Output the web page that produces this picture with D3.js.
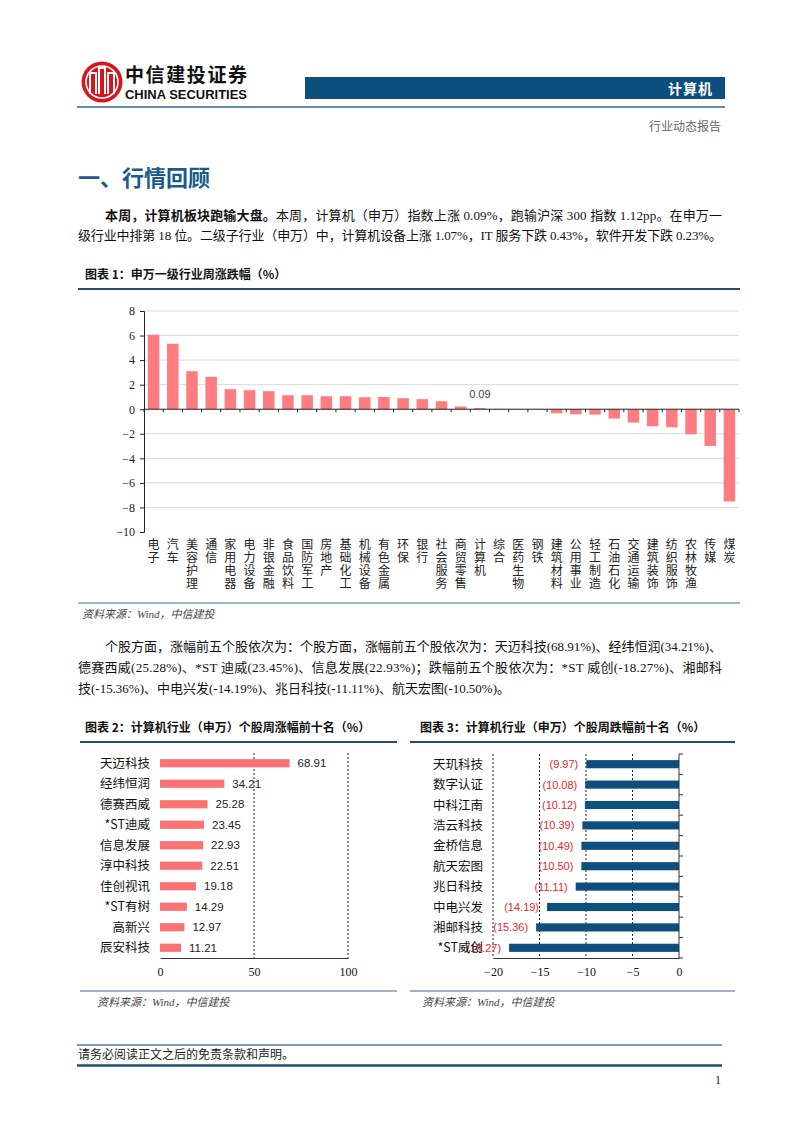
<!DOCTYPE html>
<html>
<head>
<meta charset="utf-8">
<script src="https://cdn.jsdelivr.net/npm/d3@7/dist/d3.min.js"></script>
<style>
   body { margin: 0; background: #fff; }
   svg text { font-family: "Liberation Serif", "Noto Sans CJK SC", serif; }
   .sans { font-family: "Liberation Sans", "Noto Sans CJK SC", sans-serif !important; }
   .cjk { font-family: "Noto Sans CJK SC", sans-serif !important; }
   .vert { writing-mode: vertical-rl; text-orientation: upright; }
</style>
</head>
<body>
<svg id="page" width="802" height="1133"></svg>
<script>

// CHART 1: SHENWAN LEVEL-1 INDUSTRY WEEKLY CHANGE (%)
var industries = ['电子', '汽车', '美容护理', '通信', '家用电器', '电力设备', '非银金融', '食品饮料',
   '国防军工', '房地产', '基础化工', '机械设备', '有色金属', '环保', '银行', '社会服务', '商贸零售',
   '计算机', '综合', '医药生物', '钢铁', '建筑材料', '公用事业', '轻工制造', '石油石化', '交通运输',
   '建筑装饰', '纺织服饰', '农林牧渔', '传媒', '煤炭'];
var industryChange = [6.07, 5.33, 3.10, 2.64, 1.63, 1.55, 1.47, 1.14, 1.14, 1.06, 1.06, 0.98, 1.00,
   0.90, 0.82, 0.65, 0.22, 0.09, 0.03, 0.01, 0.01, -0.33, -0.41, -0.44, -0.76, -1.09, -1.39, -1.47,
   -2.04, -2.99, -7.51];
var labelledIndustries = ['计算机'];
var industryTicks = [-10, -8, -6, -4, -2, 0, 2, 4, 6, 8];

// CHART 2: TOP 10 GAINERS (%)
var gainNames = ['天迈科技', '经纬恒润', '德赛西威', '*ST迪威', '信息发展', '淳中科技', '佳创视讯', '*ST有树', '高新兴', '辰安科技'];
var gainValues = [68.91, 34.21, 25.28, 23.45, 22.93, 22.51, 19.18, 14.29, 12.97, 11.21];
var gainTicks = [0, 50, 100];

// CHART 3: TOP 10 LOSERS (%)
var lossNames = ['天玑科技', '数字认证', '中科江南', '浩云科技', '金桥信息', '航天宏图', '兆日科技', '中电兴发', '湘邮科技', '*ST威创'];
var lossValues = [-9.97, -10.08, -10.12, -10.39, -10.49, -10.50, -11.11, -14.19, -15.36, -18.27];
var lossTicks = [-20, -15, -10, -5, 0];

var svg = d3.select('#page');

// HEADER
var logo = svg.append('g');
logo.append('circle').attr('cx', 102).attr('cy', 82).attr('r', 20.5).attr('fill', '#d8151b');
logo.append('circle').attr('cx', 102).attr('cy', 82).attr('r', 16).attr('fill', 'none')
   .attr('stroke', '#fff').attr('stroke-width', 1.6);
logo.append('path')
   .attr('d', 'M90,94 V73 H96 V94 M99,94 V68 H105 V94 M108,94 V73 H114 V94')
   .attr('fill', 'none').attr('stroke', '#fff').attr('stroke-width', 2);

svg.append('text').attr('class', 'cjk').attr('x', 125).attr('y', 82)
   .attr('font-size', 19).attr('font-weight', 'bold').attr('fill', '#111')
   .attr('textLength', 122).text('中信建投证券');
svg.append('text').attr('class', 'sans').attr('x', 125).attr('y', 99)
   .attr('font-size', 12).attr('font-weight', 'bold').attr('fill', '#111')
   .attr('textLength', 122).attr('lengthAdjust', 'spacingAndGlyphs').text('CHINA SECURITIES');

svg.append('rect').attr('x', 305).attr('y', 77).attr('width', 420).attr('height', 22).attr('fill', '#0c4e7e');
svg.append('text').attr('class', 'cjk').attr('x', 713).attr('y', 93.5).attr('text-anchor', 'end')
   .attr('font-size', 14).attr('font-weight', 'bold').attr('fill', '#fff').attr('letter-spacing', 1).text('计算机');
svg.append('line').attr('x1', 77).attr('x2', 725).attr('y1', 107).attr('y2', 107)
   .attr('stroke', '#2f638c').attr('stroke-width', 1.5);
svg.append('text').attr('x', 721).attr('y', 131).attr('text-anchor', 'end')
   .attr('font-size', 12).attr('fill', '#666').text('行业动态报告');

// SECTION HEADING
svg.append('text').attr('class', 'cjk').attr('x', 78).attr('y', 186)
   .attr('font-size', 22).attr('font-weight', 'bold').attr('fill', '#1a5b8c').text('一、行情回顾');

// PARAGRAPH 1
var p1 = svg.append('text').attr('x', 105).attr('y', 219.5).attr('font-size', 13).attr('fill', '#111')
   .attr('textLength', 617).attr('lengthAdjust', 'spacing');
p1.append('tspan').attr('font-weight', 'bold').text('本周，计算机板块跑输大盘。');
p1.append('tspan').text('本周，计算机（申万）指数上涨 0.09%，跑输沪深 300 指数 1.12pp。在申万一');
svg.append('text').attr('x', 78).attr('y', 239.5).attr('font-size', 13).attr('fill', '#111')
   .attr('textLength', 644).attr('lengthAdjust', 'spacing')
   .text('级行业中排第 18 位。二级子行业（申万）中，计算机设备上涨 1.07%，IT 服务下跌 0.43%，软件开发下跌 0.23%。');

// CHART TITLE HELPER
function title(x, y, x1, x2, label) {
   svg.append('text').attr('class', 'cjk').attr('x', x).attr('y', y)
      .attr('font-size', 12).attr('font-weight', 'bold').attr('fill', '#111').text(label);
   svg.append('line').attr('x1', x1).attr('x2', x2).attr('y1', y + 10).attr('y2', y + 10)
      .attr('stroke', '#1f4e79').attr('stroke-width', 2);
}

// SOURCE HELPER
function source(x, y, x1, x2) {
   svg.append('line').attr('x1', x1).attr('x2', x2).attr('y1', y).attr('y2', y)
      .attr('stroke', '#7f9cb4').attr('stroke-width', 1.5);
   svg.append('text').attr('x', x).attr('y', y + 15).attr('font-size', 11)
      .attr('font-style', 'italic').attr('fill', '#444').text('资料来源：Wind，中信建投');
}

// ===================== CHART 1 =====================
title(85, 279, 78, 740, '图表 1：申万一级行业周涨跌幅（%）');

var x1 = d3.scaleBand().domain(industries).range([144, 739]).paddingInner(0.4).paddingOuter(0.2);
var y1 = d3.scaleLinear().domain([-10, 8]).range([532, 311]);

// GRIDLINES
svg.append('g').selectAll('line')
   .data(industryTicks.filter(d => d !== -10 && d !== 0))
   .enter().append('line')
      .attr('x1', 144).attr('x2', 739)
      .attr('y1', d => y1(d)).attr('y2', d => y1(d))
      .attr('stroke', '#d9d9d9').attr('stroke-width', 1);

// BARS
svg.append('g').selectAll('rect')
   .data(industries)
   .enter().append('rect')
      .attr('x', d => x1(d))
      .attr('width', x1.bandwidth())
      .attr('y', (d, i) => y1(Math.max(0, industryChange[i])))
      .attr('height', (d, i) => Math.abs(y1(industryChange[i]) - y1(0)))
      .attr('fill', '#ff7c80');

// Y AXIS
var yAxis1 = svg.append('g').attr('transform', 'translate(144,0)')
   .call(d3.axisLeft(y1).tickValues(industryTicks).tickSize(4).tickPadding(5));
yAxis1.select('.domain').attr('stroke', '#222');
yAxis1.selectAll('.tick line').attr('stroke', '#222');
yAxis1.selectAll('.tick text').attr('font-size', 12).attr('fill', '#222')
   .attr('font-family', '"Liberation Serif", serif');

// ZERO AXIS WITH BOUNDARY TICKS
svg.append('line').attr('x1', 144).attr('x2', 739).attr('y1', y1(0)).attr('y2', y1(0))
   .attr('stroke', '#222').attr('stroke-width', 1);
svg.append('g').selectAll('line')
   .data(d3.range(industries.length + 1))
   .enter().append('line')
      .attr('x1', i => x1.range()[0] + i * x1.step())
      .attr('x2', i => x1.range()[0] + i * x1.step())
      .attr('y1', y1(0)).attr('y2', y1(0) + 3)
      .attr('stroke', '#222');

// DATA LABEL
svg.append('g').selectAll('text')
   .data(labelledIndustries)
   .enter().append('text')
      .attr('class', 'sans')
      .attr('x', d => x1(d) + x1.bandwidth() / 2)
      .attr('y', d => y1(industryChange[industries.indexOf(d)]) - 10)
      .attr('text-anchor', 'middle').attr('font-size', 11).attr('fill', '#404040')
      .text(d => industryChange[industries.indexOf(d)].toFixed(2));

// VERTICAL CATEGORY LABELS
svg.append('g').selectAll('text')
   .data(industries)
   .enter().append('text')
      .attr('class', 'cjk vert')
      .attr('x', d => x1(d) + x1.bandwidth() / 2)
      .attr('y', 538)
      .attr('font-size', 12).attr('letter-spacing', 1).attr('fill', '#222')
      .text(d => d);

source(82, 603, 78, 740);

// PARAGRAPH 2
svg.append('text').attr('x', 105).attr('y', 650.5).attr('font-size', 13).attr('fill', '#111')
   .attr('textLength', 617).attr('lengthAdjust', 'spacing')
   .text('个股方面，涨幅前五个股依次为：个股方面，涨幅前五个股依次为：天迈科技(68.91%)、经纬恒润(34.21%)、');
svg.append('text').attr('x', 78).attr('y', 671.5).attr('font-size', 13).attr('fill', '#111')
   .attr('textLength', 644).attr('lengthAdjust', 'spacing')
   .text('德赛西威(25.28%)、*ST 迪威(23.45%)、信息发展(22.93%)；跌幅前五个股依次为：*ST 威创(-18.27%)、湘邮科');
svg.append('text').attr('x', 78).attr('y', 693).attr('font-size', 13).attr('fill', '#111')
   .attr('textLength', 432).attr('lengthAdjust', 'spacing')
   .text('技(-15.36%)、中电兴发(-14.19%)、兆日科技(-11.11%)、航天宏图(-10.50%)。');

// ===================== CHART 2 =====================
title(85, 732, 80, 397, '图表 2：计算机行业（申万）个股周涨幅前十名（%）');

var x2 = d3.scaleLinear().domain([0, 100]).range([160, 348]);
var y2 = d3.scaleBand().domain(gainNames).range([753, 958]).paddingInner(0.6).paddingOuter(0.3);

svg.append('g').selectAll('line')
   .data(gainTicks.filter(d => d !== 0))
   .enter().append('line')
      .attr('x1', d => x2(d)).attr('x2', d => x2(d))
      .attr('y1', 753).attr('y2', 958)
      .attr('stroke', '#222').attr('stroke-dasharray', '2,2');

svg.append('g').selectAll('rect')
   .data(gainNames)
   .enter().append('rect')
      .attr('x', x2(0))
      .attr('y', d => y2(d))
      .attr('width', (d, i) => x2(gainValues[i]) - x2(0))
      .attr('height', y2.bandwidth())
      .attr('fill', '#fa7274');

svg.append('g').selectAll('text')
   .data(gainNames)
   .enter().append('text')
      .attr('class', 'sans')
      .attr('x', (d, i) => x2(gainValues[i]) + 8)
      .attr('y', d => y2(d) + y2.bandwidth() / 2 + 4)
      .attr('font-size', 11.5).attr('fill', '#222')
      .text((d, i) => gainValues[i].toFixed(2));

svg.append('g').selectAll('text')
   .data(gainNames)
   .enter().append('text')
      .attr('class', 'cjk')
      .attr('x', 150)
      .attr('y', d => y2(d) + y2.bandwidth() / 2 + 4.5)
      .attr('text-anchor', 'end').attr('font-size', 12.5).attr('fill', '#111')
      .text(d => d);

var xAxis2 = svg.append('g').attr('transform', 'translate(0,958)')
   .call(d3.axisBottom(x2).tickValues(gainTicks).tickSize(0).tickPadding(9).tickFormat(d3.format('d')));
xAxis2.select('.domain').attr('stroke', '#333');
xAxis2.selectAll('.tick text').attr('font-size', 12).attr('fill', '#111')
   .attr('font-family', '"Liberation Sans", sans-serif');

source(97, 991, 80, 397);

// ===================== CHART 3 =====================
title(420, 732, 410, 735, '图表 3：计算机行业（申万）个股周跌幅前十名（%）');

var x3 = d3.scaleLinear().domain([-20, 0]).range([493, 679]);
var y3 = d3.scaleBand().domain(lossNames).range([754, 958]).paddingInner(0.6).paddingOuter(0.3);

svg.append('g').selectAll('line')
   .data(lossTicks.filter(d => d !== 0))
   .enter().append('line')
      .attr('x1', d => x3(d)).attr('x2', d => x3(d))
      .attr('y1', 754).attr('y2', 958)
      .attr('stroke', '#222').attr('stroke-dasharray', '2,2');

svg.append('g').selectAll('rect')
   .data(lossNames)
   .enter().append('rect')
      .attr('x', (d, i) => x3(lossValues[i]))
      .attr('y', d => y3(d))
      .attr('width', (d, i) => x3(0) - x3(lossValues[i]))
      .attr('height', y3.bandwidth())
      .attr('fill', '#0f4f7e');

svg.append('g').selectAll('text')
   .data(lossNames)
   .enter().append('text')
      .attr('class', 'sans')
      .attr('x', (d, i) => x3(lossValues[i]) - 8)
      .attr('y', d => y3(d) + y3.bandwidth() / 2 + 4)
      .attr('text-anchor', 'end').attr('font-size', 11).attr('fill', '#e8262a')
      .text((d, i) => '(' + Math.abs(lossValues[i]).toFixed(2) + ')');

svg.append('g').selectAll('text')
   .data(lossNames)
   .enter().append('text')
      .attr('class', 'cjk')
      .attr('x', 483)
      .attr('y', d => y3(d) + y3.bandwidth() / 2 + 4.5)
      .attr('text-anchor', 'end').attr('font-size', 12.5).attr('fill', '#111')
      .text(d => d);

// RIGHT AXIS WITH BOUNDARY TICKS
svg.append('line').attr('x1', x3(0)).attr('x2', x3(0)).attr('y1', 754).attr('y2', 958).attr('stroke', '#333');
svg.append('g').selectAll('line')
   .data(d3.range(lossNames.length + 1))
   .enter().append('line')
      .attr('x1', x3(0)).attr('x2', x3(0) + 4)
      .attr('y1', i => y3.range()[0] + i * y3.step())
      .attr('y2', i => y3.range()[0] + i * y3.step())
      .attr('stroke', '#333');

var xAxis3 = svg.append('g').attr('transform', 'translate(0,958)')
   .call(d3.axisBottom(x3).tickValues(lossTicks).tickSize(0).tickPadding(9).tickFormat(d3.format('d')));
xAxis3.select('.domain').attr('stroke', '#333');
xAxis3.selectAll('.tick text').attr('font-size', 12).attr('fill', '#111')
   .attr('font-family', '"Liberation Sans", sans-serif');

source(422, 991, 410, 735);

// FOOTER
svg.append('line').attr('x1', 77).attr('x2', 722).attr('y1', 1045).attr('y2', 1045)
   .attr('stroke', '#7f9cb4').attr('stroke-width', 2);
svg.append('text').attr('x', 78).attr('y', 1058.5).attr('font-size', 12).attr('fill', '#222')
   .text('请务必阅读正文之后的免责条款和声明。');
svg.append('line').attr('x1', 77).attr('x2', 722).attr('y1', 1065.5).attr('y2', 1065.5)
   .attr('stroke', '#1f4e79').attr('stroke-width', 2.5);
svg.append('text').attr('x', 721).attr('y', 1084).attr('text-anchor', 'end')
   .attr('font-size', 12).attr('fill', '#222').text('1');

</script>
</body>
</html>
